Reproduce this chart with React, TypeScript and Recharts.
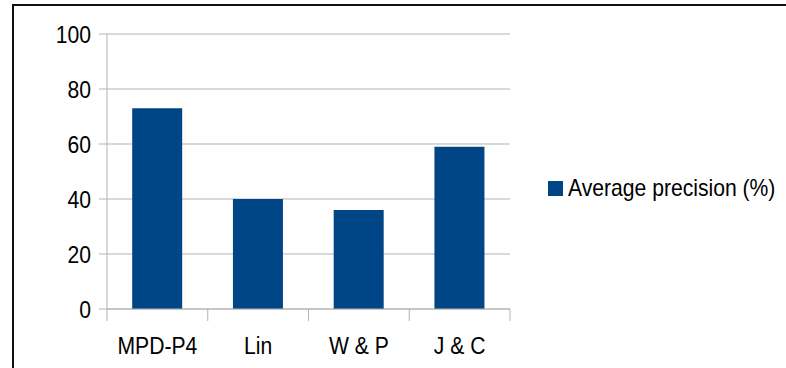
import { BarChart, Bar, XAxis, YAxis, CartesianGrid, Legend } from 'recharts';

const methods = ['MPD-P4', 'Lin', 'W & P', 'J & C'];
const avgPrecision = [73, 40, 36, 59];
const yTicks = [0, 20, 40, 60, 80, 100];

const chartData = methods.map((m, i) => ({ method: m, precision: avgPrecision[i] }));

// narrow sans look (Arial Narrow style) by squeezing Liberation Sans
const FONT = '"Liberation Sans Narrow", "Liberation Sans", Arial, sans-serif';
const SQUEEZE = 0.88;
const GRID = '#b3b3b3';
const BAR = '#004586';

const ValueTick = (props: any) => {
  const { x, y, payload } = props;
  return (
    <text
      transform={`translate(${x},${y}) scale(${SQUEEZE},1)`}
      textAnchor="end"
      dy="0.36em"
      fontFamily={FONT}
      fontSize={24}
      fill="#000"
    >
      {payload.value}
    </text>
  );
};

const CategoryTick = (props: any) => {
  const { x, y, payload, index, visibleTicksCount } = props;
  const half = payload?.offset ?? 50;
  const top = y - 12;
  return (
    <g>
      <line x1={x - half} x2={x - half} y1={top} y2={y} stroke={GRID} strokeWidth={1} />
      {index === visibleTicksCount - 1 && (
        <line x1={x + half} x2={x + half} y1={top} y2={y} stroke={GRID} strokeWidth={1} />
      )}
      <text
        transform={`translate(${x},${y + 33}) scale(${SQUEEZE},1)`}
        textAnchor="middle"
        fontFamily={FONT}
        fontSize={24}
        fill="#000"
      >
        {payload.value}
      </text>
    </g>
  );
};

const LegendBox = () => (
  <div style={{ display: 'flex', alignItems: 'center', fontFamily: FONT, fontSize: 24, color: '#000', whiteSpace: 'nowrap' }}>
    <span style={{ display: 'inline-block', width: 15, height: 15, background: BAR, marginRight: 5 }} />
    <span style={{ display: 'inline-block', transform: `scaleX(${SQUEEZE})`, transformOrigin: 'left center' }}>
      Average precision (%)
    </span>
  </div>
);

export default function App() {
  return (
    <div style={{ position: 'absolute', left: 0, top: 0, width: 786, height: 368, background: '#fff', overflow: 'hidden' }}>
      <div
        style={{
          position: 'absolute',
          left: 12,
          top: 4,
          width: 800,
          height: 400,
          borderTop: '2px solid #111',
          borderLeft: '2px solid #111',
        }}
      />
      <div style={{ position: 'absolute', left: 0, top: 0 }}>
        <BarChart
          width={786}
          height={368}
          data={chartData}
          margin={{ top: 34, right: 276, left: 12, bottom: 0 }}
          barCategoryGap="25%"
        >
          <CartesianGrid vertical={false} stroke={GRID} strokeWidth={1} />
          <XAxis
            dataKey="method"
            height={59}
            axisLine={{ stroke: GRID }}
            tickLine={false}
            tickSize={12}
            tickMargin={0}
            interval={0}
            tick={<CategoryTick />}
          />
          <YAxis
            width={95}
            domain={[0, 100]}
            ticks={yTicks}
            interval={0}
            axisLine={{ stroke: GRID }}
            tickLine={{ stroke: GRID }}
            tickSize={8}
            tickMargin={8}
            tick={<ValueTick />}
          />
          <YAxis
            yAxisId="wall"
            orientation="right"
            width={0}
            domain={[0, 100]}
            tick={false}
            tickLine={false}
            axisLine={{ stroke: GRID }}
          />
          <Legend
            align="center"
            verticalAlign="middle"
            content={<LegendBox />}
            wrapperStyle={{ left: 548, top: 174, width: 'auto' }}
          />
          <Bar dataKey="precision" name="Average precision (%)" fill={BAR} isAnimationActive={false} />
        </BarChart>
      </div>
    </div>
  );
}
